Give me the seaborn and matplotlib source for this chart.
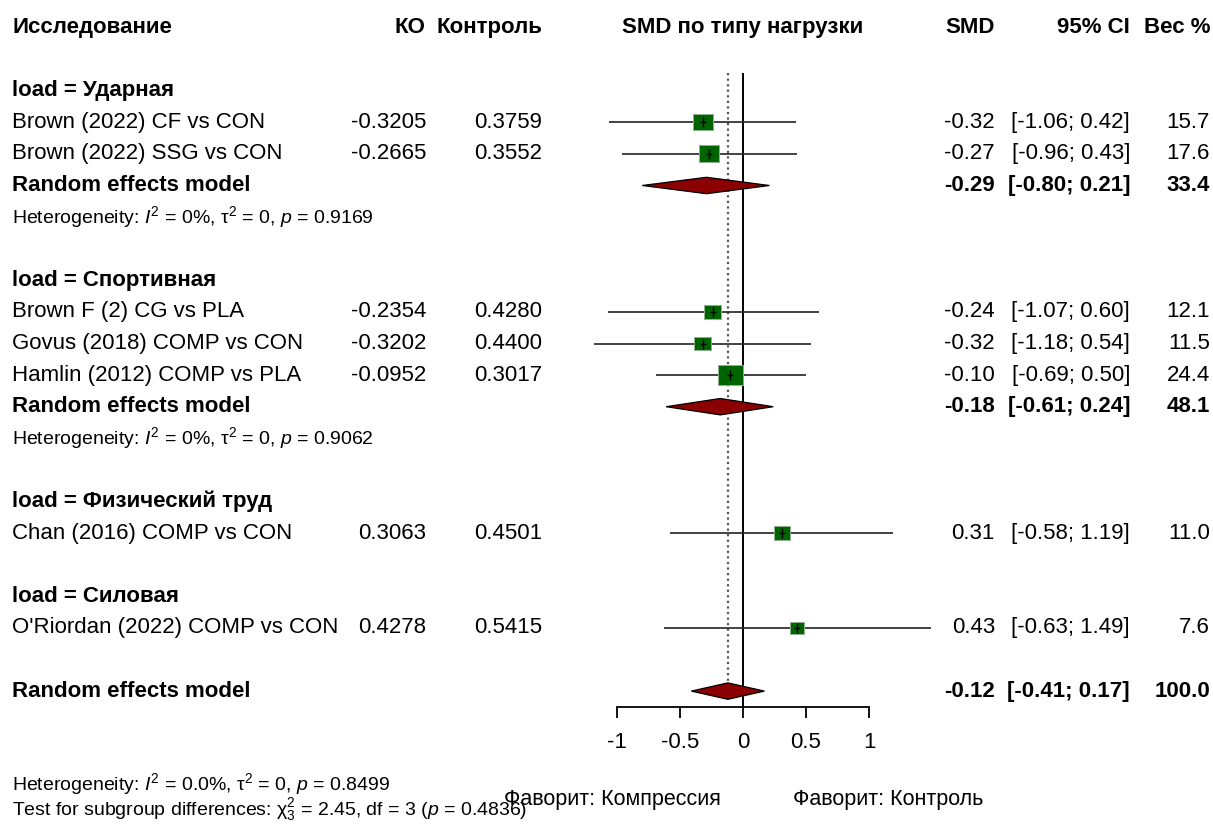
import numpy as np
import pandas as pd
import matplotlib
matplotlib.use("Agg")
import matplotlib.pyplot as plt
import matplotlib.transforms as mtransforms
from matplotlib.path import Path
import seaborn as sns

# ---------------- data ----------------
groups = ["Ударная", "Спортивная", "Физический труд", "Силовая"]
studies = ["Brown (2022) CF vs CON", "Brown (2022) SSG vs CON",
           "Brown F (2) CG vs PLA", "Govus (2018) COMP vs CON", "Hamlin (2012) COMP vs PLA",
           "Chan (2016) COMP vs CON",
           "O'Riordan (2022) COMP vs CON"]
study_group = [0, 0, 1, 1, 1, 2, 3]
ko = ["-0.3205", "-0.2665", "-0.2354", "-0.3202", "-0.0952", "0.3063", "0.4278"]
control = ["0.3759", "0.3552", "0.4280", "0.4400", "0.3017", "0.4501", "0.5415"]
smd = [-0.32, -0.27, -0.24, -0.32, -0.10, 0.31, 0.43]
ci_lo = [-1.06, -0.96, -1.07, -1.18, -0.69, -0.58, -0.63]
ci_hi = [0.42, 0.43, 0.60, 0.54, 0.50, 1.19, 1.49]
weight = [15.7, 17.6, 12.1, 11.5, 24.4, 11.0, 7.6]

# subgroup random-effects (only groups with >1 study)
re_group = [0, 1]
re_smd = [-0.29, -0.18]
re_lo = [-0.80, -0.61]
re_hi = [0.21, 0.24]
re_w = [33.4, 48.1]
re_het = [r"Heterogeneity: $I^2$ = 0%, τ$^2$ = 0, $p$ = 0.9169",
          r"Heterogeneity: $I^2$ = 0%, τ$^2$ = 0, $p$ = 0.9062"]

overall_smd = -0.12
overall_lo = -0.41
overall_hi = 0.17
overall_w = 100.0
overall_het = r"Heterogeneity: $I^2$ = 0.0%, τ$^2$ = 0, $p$ = 0.8499"
subgroup_test = r"Test for subgroup differences: χ$^2_3$ = 2.45, df = 3 ($p$ = 0.4836)"

xticks = [-1, -0.5, 0, 0.5, 1]
xtick_labels = ["-1", "-0.5", "0", "0.5", "1"]

# ---------------- style ----------------
sns.set_theme(style="white")
plt.rcParams["font.family"] = ["Liberation Sans", "DejaVu Sans"]
plt.rcParams["text.color"] = "black"
plt.rcParams["xtick.color"] = "black"
plt.rcParams["axes.labelcolor"] = "black"
plt.rcParams["mathtext.fontset"] = "custom"
plt.rcParams["mathtext.rm"] = "Liberation Sans"
plt.rcParams["mathtext.it"] = "Liberation Sans:italic"
plt.rcParams["mathtext.bf"] = "Liberation Sans:bold"

W, H = 1213, 826
fig = plt.figure(figsize=(W / 100, H / 100), dpi=100)
ax = fig.add_axes([0, 0, 1, 1])

# pixel layout
x0_px, unit_px = 743.0, 126.0
row0_px, row_px = 27.5, 31.6
ax.set_xlim((0 - x0_px) / unit_px, (W - x0_px) / unit_px)
ax.set_ylim((H - row0_px) / row_px, -row0_px / row_px)

FS = 16
FS_SMALL = 14
FS_FOOT = 15.5
tr = mtransforms.blended_transform_factory(fig.transFigure, ax.transData)

def px(x):
    return x / W

def prow(y):
    return (y - row0_px) / row_px

# ---------------- row layout ----------------
rows_study = []
rows_re = {}
rows_group = []
row = 2
for g in range(len(groups)):
    rows_group.append(row)
    row += 1
    for i, sg in enumerate(study_group):
        if sg == g:
            rows_study.append(row)
            row += 1
    if g in re_group:
        rows_re[g] = row
        row += 2
    row += 1
overall_row = row

# ---------------- header ----------------
hdr = dict(fontsize=FS, fontweight="bold", va="center", transform=tr)
ax.text(px(12), 0, "Исследование", ha="left", **hdr)
ax.text(px(425), 0, "КО", ha="right", **hdr)
ax.text(px(542), 0, "Контроль", ha="right", **hdr)
ax.text(px(743), 0, "SMD по типу нагрузки", ha="center", **hdr)
ax.text(px(995), 0, "SMD", ha="right", **hdr)
ax.text(px(1130), 0, "95% CI", ha="right", **hdr)
ax.text(px(1210), 0, "Вес %", ha="right", **hdr)

# ---------------- group labels ----------------
for g, r in zip(range(len(groups)), rows_group):
    ax.text(px(12), r, f"load = {groups[g]}", ha="left", va="center",
            fontsize=FS, fontweight="bold", transform=tr)

# ---------------- study rows ----------------
df = pd.DataFrame({"study": studies, "smd": smd, "lo": ci_lo, "hi": ci_hi,
                   "weight": weight, "row": rows_study})

ax.hlines(df["row"], df["lo"], df["hi"], color="#222222", lw=1.2, zorder=2)

box = Path([(-0.5, -0.41), (0.5, -0.41), (0.5, 0.41), (-0.5, 0.41), (-0.5, -0.41)],
           [Path.MOVETO, Path.LINETO, Path.LINETO, Path.LINETO, Path.CLOSEPOLY])
size_map = {w: 12.8 * w for w in weight}
sns.scatterplot(data=df, x="smd", y="row", size="weight", sizes=size_map,
                marker=box, color="#006400", edgecolor="#8fb08f", linewidth=0.7,
                legend=False, ax=ax, zorder=3)
ax.scatter(df["smd"], df["row"], marker="|", s=45, color="black", lw=1.0, zorder=4)
ax.scatter(df["smd"], df["row"], marker="_", s=20, color="black", lw=1.0, zorder=4)

for i, r in enumerate(rows_study):
    ax.text(px(12), r, studies[i], ha="left", va="center", fontsize=FS, transform=tr)
    ax.text(px(426), r, ko[i], ha="right", va="center", fontsize=FS, transform=tr)
    ax.text(px(542), r, control[i], ha="right", va="center", fontsize=FS, transform=tr)
    ax.text(px(995), r, f"{smd[i]:.2f}", ha="right", va="center", fontsize=FS, transform=tr)
    ax.text(px(1130), r, f"[{ci_lo[i]:.2f}; {ci_hi[i]:.2f}]", ha="right", va="center",
            fontsize=FS, transform=tr)
    ax.text(px(1210), r, f"{weight[i]:.1f}", ha="right", va="center", fontsize=FS, transform=tr)

# ---------------- diamonds ----------------
DH = 0.26

def diamond(est, lo, hi, r):
    ax.fill([lo, est, hi, est, lo], [r, r - DH, r, r + DH, r],
            facecolor="#8B0000", edgecolor="black", lw=0.9, zorder=3)

for k, g in enumerate(re_group):
    r = rows_re[g]
    diamond(re_smd[k], re_lo[k], re_hi[k], r)
    b = dict(ha="right", va="center", fontsize=FS, fontweight="bold", transform=tr)
    ax.text(px(12), r, "Random effects model", ha="left", va="center",
            fontsize=FS, fontweight="bold", transform=tr)
    ax.text(px(995), r, f"{re_smd[k]:.2f}", **b)
    ax.text(px(1130), r, f"[{re_lo[k]:.2f}; {re_hi[k]:.2f}]", **b)
    ax.text(px(1210), r, f"{re_w[k]:.1f}", **b)
    ax.text(px(12), r + 1, re_het[k], ha="left", va="center", fontsize=FS_SMALL, transform=tr)

diamond(overall_smd, overall_lo, overall_hi, overall_row)
b = dict(ha="right", va="center", fontsize=FS, fontweight="bold", transform=tr)
ax.text(px(12), overall_row, "Random effects model", ha="left", va="center",
        fontsize=FS, fontweight="bold", transform=tr)
ax.text(px(995), overall_row, f"{overall_smd:.2f}", **b)
ax.text(px(1130), overall_row, f"[{overall_lo:.2f}; {overall_hi:.2f}]", **b)
ax.text(px(1210), overall_row, f"{overall_w:.1f}", **b)

# ---------------- reference lines ----------------
ax.vlines(0, 1.44, overall_row + 0.5, color="black", lw=1.4, zorder=1)
ax.vlines(overall_smd, 1.44, overall_row - DH, color="#555555", lw=1.6,
          linestyles=(0, (1, 1.5)), zorder=1)

# ---------------- axis ----------------
for s in ["top", "left", "right"]:
    ax.spines[s].set_visible(False)
ax.spines["bottom"].set_position(("data", overall_row + 0.5))
ax.spines["bottom"].set_bounds(-1, 1)
ax.spines["bottom"].set_color("black")
ax.spines["bottom"].set_linewidth(1.3)
ax.set_xticks(xticks)
ax.set_xticklabels(xtick_labels, fontsize=FS)
ax.tick_params(axis="x", direction="out", length=8, width=1.3, color="black",
               labelcolor="black", pad=10, bottom=True)
ax.set_yticks([])
ax.set_xlabel("")
ax.set_ylabel("")

# ---------------- footer ----------------
ax.text(px(12), prow(784), overall_het, ha="left", va="center",
        fontsize=FS_SMALL, transform=tr)
ax.text(px(12), prow(810), subgroup_test, ha="left", va="center",
        fontsize=FS_SMALL, transform=tr)
ax.text(px(612), prow(799), "Фаворит: Компрессия", ha="center", va="center",
        fontsize=FS_FOOT, transform=tr)
ax.text(px(888), prow(799), "Фаворит: Контроль", ha="center", va="center",
        fontsize=FS_FOOT, transform=tr)

fig.savefig("out.png", dpi=100)
